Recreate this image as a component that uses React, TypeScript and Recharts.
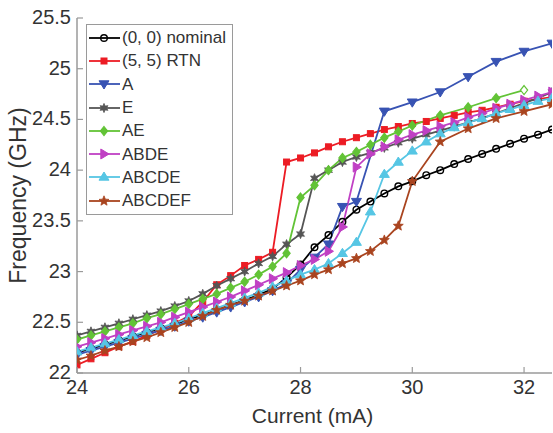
import React from 'react';
import { LineChart, Line, XAxis, YAxis } from 'recharts';

const FONT = '"Liberation Sans", Arial, Helvetica, sans-serif';
const FRAME = '#9a9a9a';
const TEXT = '#333333';

// Bias currents (mA)
const currentFine = [
  24, 24.25, 24.5, 24.75, 25, 25.25, 25.5, 25.75, 26, 26.25, 26.5, 26.75,
  27, 27.25, 27.5, 27.75, 28, 28.25, 28.5, 28.75, 29, 29.25, 29.5, 29.75,
  30, 30.25, 30.5, 30.75, 31, 31.25, 31.5, 31.75, 32, 32.25, 32.5,
];
const currentA = [
  24, 24.25, 24.5, 24.75, 25, 25.25, 25.5, 25.75, 26, 26.25, 26.5, 26.75,
  27, 27.25, 27.5, 27.75, 28, 28.25, 28.5, 28.75, 29,
  29.5, 30, 30.5, 31, 31.5, 32, 32.5,
];
const currentAE = [
  24, 24.25, 24.5, 24.75, 25, 25.25, 25.5, 25.75, 26, 26.25, 26.5, 26.75,
  27, 27.25, 27.5, 27.75, 28, 28.25, 28.5, 28.75, 29, 29.25, 29.5, 29.75,
  30, 30.5, 31, 31.5, 32,
];
const currentABCDEF = [
  24, 24.25, 24.5, 24.75, 25, 25.25, 25.5, 25.75, 26, 26.25, 26.5, 26.75,
  27, 27.25, 27.5, 27.75, 28, 28.25, 28.5, 28.75, 29, 29.25, 29.5, 29.75,
  30, 30.5, 31, 31.5, 32, 32.5,
];

// Oscillation frequency (GHz)
const freqNominal = [
  22.2, 22.24, 22.28, 22.32, 22.36, 22.4, 22.44, 22.48, 22.53, 22.57, 22.62, 22.67,
  22.72, 22.77, 22.83, 22.94, 23.07, 23.24, 23.36, 23.49, 23.61, 23.69, 23.77, 23.84,
  23.89, 23.95, 24.0, 24.06, 24.11, 24.16, 24.21, 24.26, 24.31, 24.35, 24.4,
];
const freqRTN = [
  22.08, 22.14, 22.2, 22.26, 22.31, 22.37, 22.43, 22.49, 22.56, 22.7, 22.87, 22.96,
  23.06, 23.12, 23.19, 24.08, 24.12, 24.17, 24.23, 24.28, 24.32, 24.36, 24.4, 24.43,
  24.46, 24.48, 24.51, 24.54, 24.57, 24.59, 24.62, 24.65, 24.68, 24.7, 24.72,
];
const freqA = [
  22.18, 22.22, 22.26, 22.3, 22.34, 22.38, 22.42, 22.46, 22.51, 22.55, 22.6, 22.65,
  22.7, 22.75, 22.81, 22.88, 23.02, 23.14, 23.27, 23.64, 23.69,
  24.58, 24.67, 24.77, 24.92, 25.07, 25.17, 25.25,
];
const freqE = [
  22.37, 22.41, 22.45, 22.49, 22.53, 22.57, 22.61, 22.66, 22.71, 22.78, 22.86, 22.93,
  23.0, 23.08, 23.15, 23.27, 23.37, 23.92, 24.0, 24.08, 24.13, 24.17, 24.22, 24.27,
  24.31, 24.35, 24.39, 24.43, 24.47, 24.51, 24.56, 24.61, 24.66, 24.71, 24.77,
];
const freqAE = [
  22.33, 22.37, 22.41, 22.45, 22.49, 22.54, 22.58, 22.63, 22.68, 22.73, 22.78, 22.84,
  22.9, 22.97, 23.05, 23.18, 23.73, 23.85, 24.0, 24.12, 24.18, 24.25, 24.32, 24.38,
  24.44, 24.54, 24.62, 24.71, 24.79,
];
const freqABDE = [
  22.26, 22.3, 22.34, 22.38, 22.42, 22.46, 22.5, 22.55, 22.6, 22.65, 22.7, 22.75,
  22.81, 22.87, 22.93, 22.99, 23.06, 23.12, 23.2, 23.44, 24.03, 24.16, 24.23, 24.3,
  24.35, 24.39, 24.43, 24.47, 24.52, 24.56, 24.61, 24.65, 24.69, 24.73, 24.77,
];
const freqABCDE = [
  22.21, 22.25, 22.29, 22.33, 22.37, 22.41, 22.45, 22.49, 22.54, 22.59, 22.64, 22.69,
  22.74, 22.79, 22.85, 22.91, 22.97, 23.02, 23.08, 23.18, 23.29, 23.59, 23.96, 24.08,
  24.19, 24.28, 24.36, 24.42, 24.47, 24.51, 24.56, 24.6, 24.64, 24.68, 24.71,
];
const freqABCDEF = [
  22.13, 22.17, 22.22, 22.26, 22.31, 22.35, 22.4, 22.45, 22.5, 22.56, 22.62, 22.67,
  22.71, 22.76, 22.81, 22.86, 22.91, 22.97, 23.02, 23.08, 23.13, 23.2, 23.31, 23.45,
  23.89, 24.28, 24.41, 24.51, 24.58, 24.65,
];

const xTicks = [24, 26, 28, 30, 32];
const yTicks = [22, 22.5, 23, 23.5, 24, 24.5, 25, 25.5];

type Shape = 'circle' | 'square' | 'triDown' | 'star6' | 'diamond' | 'triRight' | 'triUp' | 'star5';

interface SeriesDef {
  name: string;
  color: string;
  shape: Shape;
  currents: number[];
  freqs: number[];
  hollowLast?: boolean;
}

const series: SeriesDef[] = [
  { name: '(0, 0) nominal', color: '#000000', shape: 'circle', currents: currentFine, freqs: freqNominal },
  { name: '(5, 5) RTN', color: '#ec1c24', shape: 'square', currents: currentFine, freqs: freqRTN },
  { name: 'A', color: '#3853b3', shape: 'triDown', currents: currentA, freqs: freqA },
  { name: 'E', color: '#555555', shape: 'star6', currents: currentFine, freqs: freqE },
  { name: 'AE', color: '#62c336', shape: 'diamond', currents: currentAE, freqs: freqAE, hollowLast: true },
  { name: 'ABDE', color: '#c040c4', shape: 'triRight', currents: currentFine, freqs: freqABDE },
  { name: 'ABCDE', color: '#56c6e4', shape: 'triUp', currents: currentFine, freqs: freqABCDE },
  { name: 'ABCDEF', color: '#a9441f', shape: 'star5', currents: currentABCDEF, freqs: freqABCDEF },
];

const toPoints = (xs: number[], ys: number[]) => xs.map((x, i) => ({ current: x, freq: ys[i] }));

function starPath(cx: number, cy: number, n: number, outer: number, inner: number) {
  const pts: string[] = [];
  for (let k = 0; k < n * 2; k++) {
    const r = k % 2 === 0 ? outer : inner;
    const a = -Math.PI / 2 + (k * Math.PI) / n;
    pts.push(`${(cx + r * Math.cos(a)).toFixed(2)},${(cy + r * Math.sin(a)).toFixed(2)}`);
  }
  return `M${pts.join('L')}Z`;
}

function Marker({ shape, cx, cy, color, hollow }: { shape: Shape; cx: number; cy: number; color: string; hollow?: boolean }) {
  const fill = hollow ? '#ffffff' : color;
  switch (shape) {
    case 'circle':
      return <circle cx={cx} cy={cy} r={3.3} fill="none" stroke={color} strokeWidth={1.4} />;
    case 'square':
      return <rect x={cx - 3} y={cy - 3} width={6} height={6} fill={fill} stroke={color} strokeWidth={1} />;
    case 'triDown':
      return <path d={`M${cx - 5},${cy - 3.2}L${cx + 5},${cy - 3.2}L${cx},${cy + 5}Z`} fill={fill} stroke={color} strokeWidth={1} />;
    case 'triUp':
      return <path d={`M${cx - 5},${cy + 3.2}L${cx + 5},${cy + 3.2}L${cx},${cy - 5}Z`} fill={fill} stroke={color} strokeWidth={1} />;
    case 'triRight':
      return <path d={`M${cx - 3.2},${cy - 5}L${cx - 3.2},${cy + 5}L${cx + 5},${cy}Z`} fill={fill} stroke={color} strokeWidth={1} />;
    case 'diamond':
      return <path d={`M${cx},${cy - 4.5}L${cx + 3.6},${cy}L${cx},${cy + 4.5}L${cx - 3.6},${cy}Z`} fill={fill} stroke={color} strokeWidth={1.2} />;
    case 'star6':
      return <path d={starPath(cx, cy, 6, 4.6, 2.2)} fill={fill} stroke={color} strokeWidth={0.8} />;
    case 'star5':
      return <path d={starPath(cx, cy, 5, 5.2, 2.3)} fill={fill} stroke={color} strokeWidth={0.8} />;
    default:
      return null;
  }
}

const makeDot = (s: SeriesDef) => (props: any) => {
  const { cx, cy, index } = props;
  if (cx == null || cy == null) return <g key={`d-${s.name}-${index}`} />;
  const hollow = s.hollowLast && index === s.currents.length - 1;
  return (
    <g key={`d-${s.name}-${index}`}>
      <Marker shape={s.shape} cx={cx} cy={cy} color={s.color} hollow={hollow} />
    </g>
  );
};

const BottomTick = (props: any) => {
  const { x, y, payload } = props;
  return (
    <g>
      <line x1={x} y1={y} x2={x} y2={y - 6} stroke={FRAME} strokeWidth={1.2} />
      <text x={x} y={y + 21} textAnchor="middle" fontSize={20} fill={TEXT} fontFamily={FONT}>
        {payload.value}
      </text>
    </g>
  );
};

const LeftTick = (props: any) => {
  const { x, y, payload } = props;
  return (
    <g>
      <line x1={x} y1={y} x2={x + 6} y2={y} stroke={FRAME} strokeWidth={1.2} />
      <text x={x - 6} y={y + 6} textAnchor="end" fontSize={20} fill={TEXT} fontFamily={FONT}>
        {payload.value}
      </text>
    </g>
  );
};

const TopTick = (props: any) => {
  const { x, y } = props;
  return <line x1={x} y1={y} x2={x} y2={y + 6} stroke={FRAME} strokeWidth={1.2} />;
};

const RightTick = (props: any) => {
  const { x, y } = props;
  return <line x1={x} y1={y} x2={x - 6} y2={y} stroke={FRAME} strokeWidth={1.2} />;
};

const renderYLabel = (props: any) => {
  const vb = props.viewBox || {};
  const cx = 18;
  const cy = (vb.y ?? 18) + (vb.height ?? 355) / 2;
  return (
    <text
      x={cx}
      y={cy}
      transform={`rotate(-90, ${cx}, ${cy})`}
      textAnchor="middle"
      dominantBaseline="central"
      fontSize={23}
      fill={TEXT}
      fontFamily={FONT}
    >
      Frequency (GHz)
    </text>
  );
};

const renderXLabel = (props: any) => {
  const vb = props.viewBox || {};
  const cx = (vb.x ?? 77) + (vb.width ?? 475) / 2 - 2;
  return (
    <text x={cx} y={423} textAnchor="middle" fontSize={21} fill={TEXT} fontFamily={FONT}>
      Current (mA)
    </text>
  );
};

const LegendBox = () => (
  <div
    style={{
      position: 'absolute',
      left: 86,
      top: 24,
      border: `1px solid ${FRAME}`,
      background: '#ffffff',
      width: 147,
      boxSizing: 'border-box',
      padding: '1px 0 2px 0',
      fontFamily: FONT,
    }}
  >
    {series.map((s) => (
      <div key={s.name} style={{ height: 23.3, display: 'flex', alignItems: 'center' }}>
        <svg width={35} height={16} style={{ display: 'block', flex: 'none' }}>
          <line x1={2} y1={8} x2={33} y2={8} stroke={s.color} strokeWidth={1.8} />
          <Marker shape={s.shape} cx={17} cy={8} color={s.color} />
        </svg>
        <span style={{ fontSize: 17, color: TEXT, lineHeight: '17px', whiteSpace: 'nowrap' }}>{s.name}</span>
      </div>
    ))}
  </div>
);

export default function App() {
  return (
    <div style={{ position: 'absolute', left: 0, top: 0, width: 553, height: 433, background: '#ffffff' }}>
      <LineChart width={553} height={433} margin={{ top: 18, right: 1, bottom: 0, left: 0 }}>
        <XAxis
          type="number"
          dataKey="current"
          domain={[24, 32.5]}
          ticks={xTicks}
          allowDataOverflow
          height={60}
          tickSize={0}
          tickMargin={0}
          tick={BottomTick}
          axisLine={{ stroke: FRAME, strokeWidth: 1.5 }}
          tickLine={false}
          interval={0}
          label={renderXLabel}
        />
        <XAxis
          xAxisId="top"
          orientation="top"
          type="number"
          domain={[24, 32.5]}
          ticks={xTicks}
          allowDataOverflow
          height={0}
          tickSize={0}
          tickMargin={0}
          tick={TopTick}
          axisLine={{ stroke: FRAME, strokeWidth: 1.5 }}
          tickLine={false}
          interval={0}
        />
        <YAxis
          type="number"
          domain={[22, 25.5]}
          ticks={yTicks}
          allowDataOverflow
          width={77}
          tickSize={0}
          tickMargin={0}
          tick={LeftTick}
          axisLine={{ stroke: FRAME, strokeWidth: 1.5 }}
          tickLine={false}
          interval={0}
          label={renderYLabel}
        />
        <YAxis
          yAxisId="right"
          orientation="right"
          type="number"
          domain={[22, 25.5]}
          ticks={yTicks}
          allowDataOverflow
          width={0}
          tickSize={0}
          tickMargin={0}
          tick={RightTick}
          axisLine={{ stroke: FRAME, strokeWidth: 1.5 }}
          tickLine={false}
          interval={0}
        />
        {series.map((s) => (
          <Line
            key={s.name}
            name={s.name}
            data={toPoints(s.currents, s.freqs)}
            dataKey="freq"
            type="linear"
            stroke={s.color}
            strokeWidth={1.8}
            dot={makeDot(s)}
            activeDot={false}
            isAnimationActive={false}
          />
        ))}
      </LineChart>
      <LegendBox />
    </div>
  );
}
